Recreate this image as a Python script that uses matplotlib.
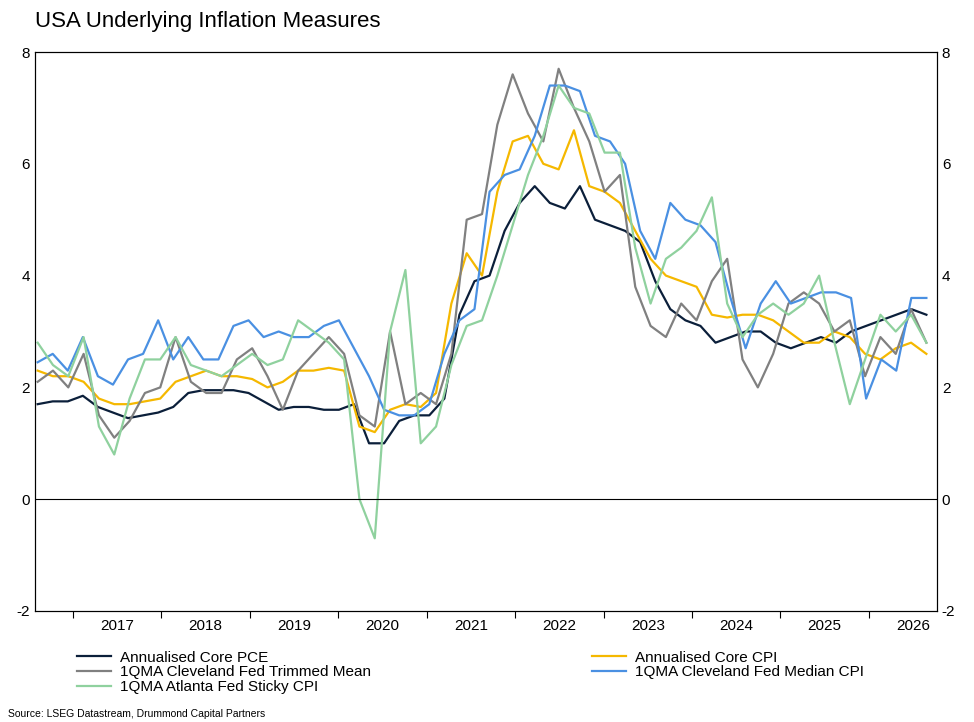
import matplotlib.pyplot as plt
import numpy as np

plt.rcParams['font.family'] = ['Liberation Sans', 'DejaVu Sans']
plt.rcParams['axes.unicode_minus'] = False

series = {
    'Annualised Core PCE': ('#0b1f3a', [1.7, 1.75, 1.75, 1.85, 1.65, 1.55, 1.45, 1.5, 1.55, 1.65, 1.9, 1.95, 1.95, 1.95, 1.9, 1.75, 1.6, 1.65, 1.65, 1.6, 1.6, 1.7, 1.0, 1.0, 1.4, 1.5, 1.5, 1.8, 3.3, 3.9, 4.0, 4.8, 5.3, 5.6, 5.3, 5.2, 5.6, 5.0, 4.9, 4.8, 4.6, 3.9, 3.4, 3.2, 3.1, 2.8, 2.9, 3.0, 3.0, 2.8, 2.7, 2.8, 2.9, 2.8, 3.0, 3.1, 3.2, 3.3, 3.4, 3.3]),
    'Annualised Core CPI': ('#f5b800', [2.3, 2.2, 2.2, 2.1, 1.8, 1.7, 1.7, 1.75, 1.8, 2.1, 2.2, 2.3, 2.2, 2.2, 2.15, 2.0, 2.1, 2.3, 2.3, 2.35, 2.3, 1.3, 1.2, 1.6, 1.7, 1.65, 1.9, 3.5, 4.4, 4.0, 5.5, 6.4, 6.5, 6.0, 5.9, 6.6, 5.6, 5.5, 5.3, 4.8, 4.3, 4.0, 3.9, 3.8, 3.3, 3.25, 3.3, 3.3, 3.2, 3.0, 2.8, 2.8, 3.0, 2.9, 2.6, 2.5, 2.7, 2.8, 2.6]),
    '1QMA Cleveland Fed Trimmed Mean': ('#808080', [2.1, 2.3, 2.0, 2.6, 1.5, 1.1, 1.4, 1.9, 2.0, 2.9, 2.1, 1.9, 1.9, 2.5, 2.7, 2.2, 1.6, 2.3, 2.6, 2.9, 2.6, 1.5, 1.3, 3.0, 1.7, 1.9, 1.7, 2.6, 5.0, 5.1, 6.7, 7.6, 6.9, 6.4, 7.7, 7.0, 6.4, 5.5, 5.8, 3.8, 3.1, 2.9, 3.5, 3.2, 3.9, 4.3, 2.5, 2.0, 2.6, 3.5, 3.7, 3.5, 3.0, 3.2, 2.2, 2.9, 2.6, 3.4, 2.8]),
    '1QMA Cleveland Fed Median CPI': ('#4a90e2', [2.45, 2.6, 2.3, 2.9, 2.2, 2.05, 2.5, 2.6, 3.2, 2.5, 2.9, 2.5, 2.5, 3.1, 3.2, 2.9, 3.0, 2.9, 2.9, 3.1, 3.2, 2.7, 2.2, 1.6, 1.5, 1.5, 1.7, 2.6, 3.2, 3.4, 5.5, 5.8, 5.9, 6.5, 7.4, 7.4, 7.3, 6.5, 6.4, 6.0, 4.8, 4.3, 5.3, 5.0, 4.9, 4.6, 3.6, 2.7, 3.5, 3.9, 3.5, 3.6, 3.7, 3.7, 3.6, 1.8, 2.5, 2.3, 3.6, 3.6]),
    '1QMA Atlanta Fed Sticky CPI': ('#8fd19e', [2.8, 2.4, 2.2, 2.9, 1.3, 0.8, 1.8, 2.5, 2.5, 2.9, 2.4, 2.3, 2.2, 2.4, 2.6, 2.4, 2.5, 3.2, 3.0, 2.8, 2.5, 0.0, -0.7, 3.0, 4.1, 1.0, 1.3, 2.4, 3.1, 3.2, 4.0, 4.9, 5.8, 6.5, 7.4, 7.0, 6.9, 6.2, 6.2, 4.5, 3.5, 4.3, 4.5, 4.8, 5.4, 3.5, 2.9, 3.3, 3.5, 3.3, 3.5, 4.0, 2.8, 1.7, 2.5, 3.3, 3.0, 3.3, 2.8]),
}

fig = plt.figure(figsize=(9.74, 7.22), dpi=100)
ax = fig.add_axes([35 / 974, 1 - 611 / 722, 902 / 974, 559 / 722])
lines = {}
for name, (color, vals) in series.items():
    x = np.linspace(2016.6, 2026.65, len(vals))
    lines[name], = ax.plot(x, vals, color=color, lw=1.6, label=name)
ax.axhline(0, color='black', lw=0.8)
ax.set_xlim(2016.57, 2026.77)
ax.set_ylim(-2, 8)
ax.set_xticks(range(2017, 2027))
ax.set_xticklabels([])
ax.set_xticks(np.arange(2017.5, 2026.6, 1), minor=True)
ax.set_xticklabels([str(y) for y in range(2017, 2027)], minor=True)
ax.tick_params(axis='x', which='minor', length=0, labelsize=11, pad=6)
ax.tick_params(axis='x', which='major', length=5, direction='out')
ax.tick_params(axis='y', labelsize=11, length=0)
ax.set_yticks(range(-2, 9, 2))
ax2 = ax.twinx()
ax2.set_ylim(-2, 8)
ax2.set_yticks(range(-2, 9, 2))
ax2.tick_params(axis='y', labelsize=11, length=0)
fig.text(35 / 974, 1 - 22 / 722, 'USA Underlying Inflation Measures', fontsize=16, va='center')
order = ['Annualised Core PCE', '1QMA Cleveland Fed Trimmed Mean', '1QMA Atlanta Fed Sticky CPI',
         'Annualised Core CPI', '1QMA Cleveland Fed Median CPI']
ax.legend([lines[n] for n in order], order, loc='upper left', bbox_to_anchor=(0.04, -0.06), ncol=2,
          frameon=False, fontsize=11, handlelength=2.2, columnspacing=14.5, labelspacing=0.05,
          borderaxespad=0, handletextpad=0.6)
fig.text(8 / 974, 1 - 714 / 722, 'Source: LSEG Datastream, Drummond Capital Partners', fontsize=7.5, va='center')
fig.savefig('out.png')
